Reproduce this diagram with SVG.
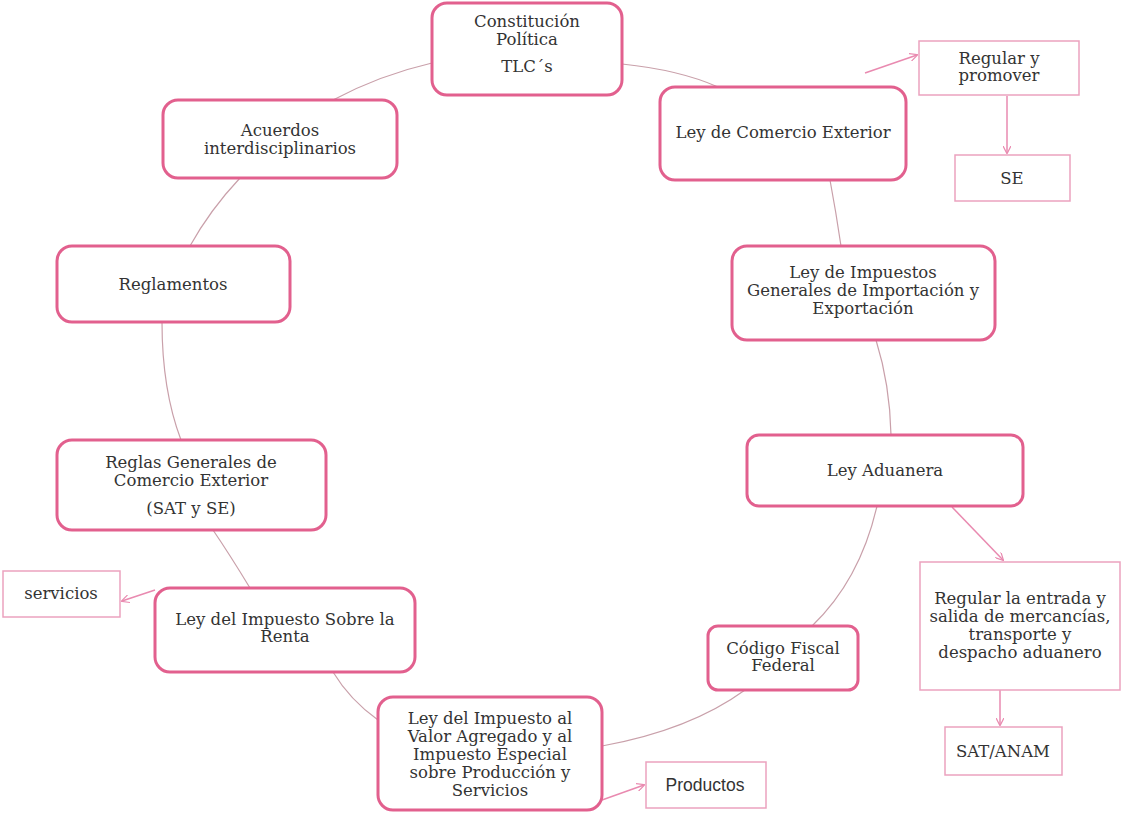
<svg xmlns="http://www.w3.org/2000/svg" width="1126" height="813" viewBox="0 0 1126 813">
<style>
.n{fill:#fff;stroke:#e2608e;stroke-width:3}
.b{fill:#fff;stroke:#eba2bf;stroke-width:1.5}
.t{font-family:"DejaVu Serif","Liberation Serif",serif;font-size:16.5px;fill:#333;text-anchor:middle}
.s{font-family:"Liberation Sans",Arial,sans-serif;font-size:17.5px;fill:#333;text-anchor:middle}
.c{fill:none;stroke:#c9a0aa;stroke-width:1.2}
.a{fill:none;stroke:#e98ab0;stroke-width:1.5;marker-end:url(#ah)}
</style>
<defs>
<marker id="ah" viewBox="0 0 10 10" refX="9" refY="5" markerWidth="8" markerHeight="8" orient="auto" markerUnits="userSpaceOnUse">
<path d="M0,0 L10,5 L0,10" fill="none" stroke="#e98ab0" stroke-width="1.5"/>
</marker>
</defs>
<rect width="1126" height="813" fill="#fff"/>
<g id="connectors">
<path class="c" d="M622,64 Q680,70 718,87"/>
<path class="c" d="M830,180 Q836,212 841,246"/>
<path class="c" d="M876,340 Q890,385 891,435"/>
<path class="c" d="M877,506 Q860,580 812,626"/>
<path class="c" d="M745,690 Q690,730 602,746"/>
<path class="c" d="M333,672 Q350,700 378,720"/>
<path class="c" d="M250,588 Q230,555 213,530"/>
<path class="c" d="M162,322 Q162,390 181,440"/>
<path class="c" d="M190,246 Q210,210 240,178"/>
<path class="c" d="M333,100 Q380,75 432,63"/>
<path class="a" d="M865,73 L917,55"/>
<path class="a" d="M1007,96 L1007,153"/>
<path class="a" d="M952,507 L1003,560"/>
<path class="a" d="M1000,690 L1000,725"/>
<path class="a" d="M155,590 L122,601"/>
<path class="a" d="M602,800 L644,785"/>
</g>
<g id="n1"><rect class="n" x="432" y="3" width="190" height="92" rx="15"/>
<text class="t" x="527" y="27">Constitución</text><text class="t" x="527" y="45">Política</text><text class="t" x="527" y="72">TLC´s</text></g>
<g id="n2"><rect class="n" x="660" y="87" width="246" height="93" rx="15"/>
<text class="t" x="783" y="138">Ley de Comercio Exterior</text></g>
<g id="n3"><rect class="b" x="919" y="41" width="160" height="54"/>
<text class="t" x="999" y="64">Regular y</text><text class="t" x="999" y="81">promover</text></g>
<g id="n4"><rect class="b" x="955" y="155" width="115" height="46"/>
<text class="t" x="1012" y="184">SE</text></g>
<g id="n5"><rect class="n" x="732" y="246" width="263" height="94" rx="15"/>
<text class="t" x="863" y="278">Ley de Impuestos</text><text class="t" x="863" y="296">Generales de Importación y</text><text class="t" x="863" y="314">Exportación</text></g>
<g id="n6"><rect class="n" x="747" y="435" width="276" height="71" rx="12"/>
<text class="t" x="885" y="476">Ley Aduanera</text></g>
<g id="n7"><rect class="b" x="920" y="562" width="200" height="128"/>
<text class="t" x="1020" y="604">Regular la entrada y</text><text class="t" x="1020" y="622">salida de mercancías,</text><text class="t" x="1020" y="640">transporte y</text><text class="t" x="1020" y="658">despacho aduanero</text></g>
<g id="n8"><rect class="b" x="945" y="727" width="117" height="48"/>
<text class="t" x="1003" y="757">SAT/ANAM</text></g>
<g id="n9"><rect class="n" x="708" y="626" width="150" height="64" rx="10"/>
<text class="t" x="783" y="654">Código Fiscal</text><text class="t" x="783" y="671">Federal</text></g>
<g id="n10"><rect class="n" x="378" y="697" width="224" height="113" rx="15"/>
<text class="t" x="490" y="724">Ley del Impuesto al</text><text class="t" x="490" y="742">Valor Agregado y al</text><text class="t" x="490" y="760">Impuesto Especial</text><text class="t" x="490" y="778">sobre Producción y</text><text class="t" x="490" y="796">Servicios</text></g>
<g id="n11"><rect class="b" x="646" y="762" width="120" height="46"/>
<text class="s" x="705" y="791">Productos</text></g>
<g id="n12"><rect class="n" x="155" y="588" width="260" height="84" rx="15"/>
<text class="t" x="285" y="625">Ley del Impuesto Sobre la</text><text class="t" x="285" y="642">Renta</text></g>
<g id="n13"><rect class="b" x="3" y="571" width="117" height="46"/>
<text class="t" x="61" y="599">servicios</text></g>
<g id="n14"><rect class="n" x="57" y="440" width="269" height="90" rx="15"/>
<text class="t" x="191" y="468">Reglas Generales de</text><text class="t" x="191" y="486">Comercio Exterior</text><text class="t" x="191" y="514">(SAT y SE)</text></g>
<g id="n15"><rect class="n" x="57" y="246" width="233" height="76" rx="15"/>
<text class="t" x="173" y="290">Reglamentos</text></g>
<g id="n16"><rect class="n" x="163" y="100" width="234" height="78" rx="15"/>
<text class="t" x="280" y="136">Acuerdos</text><text class="t" x="280" y="154">interdisciplinarios</text></g>
</svg>
